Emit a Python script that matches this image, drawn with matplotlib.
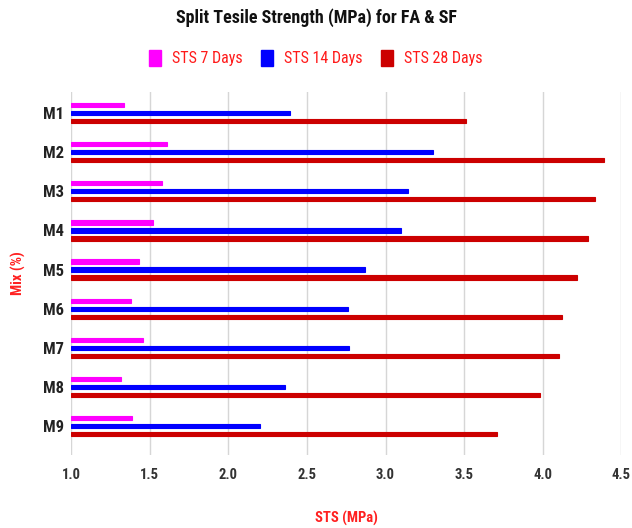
import numpy as np
import matplotlib
matplotlib.use("Agg")
import matplotlib.pyplot as plt
from matplotlib.patches import Patch

plt.rcParams["font.family"] = ["Roboto Condensed", "Roboto", "DejaVu Sans"]

# split tensile strength per mix
mixes = ["M1", "M2", "M3", "M4", "M5", "M6", "M7", "M8", "M9"]
sts_7 = [1.34, 1.61, 1.58, 1.52, 1.43, 1.38, 1.46, 1.32, 1.39]
sts_14 = [2.39, 3.30, 3.14, 3.10, 2.87, 2.76, 2.77, 2.36, 2.20]
sts_28 = [3.51, 4.39, 4.33, 4.29, 4.22, 4.12, 4.10, 3.98, 3.71]
series_labels = ["STS 7 Days", "STS 14 Days", "STS 28 Days"]
colors = ["#ff00ff", "#0000ff", "#cc0000"]
xticks = [1.0, 1.5, 2.0, 2.5, 3.0, 3.5, 4.0, 4.5]

fig = plt.figure(figsize=(6.32, 5.28), dpi=100)
ax = fig.add_axes([0.1123, 0.138, 0.8710, 0.688])

y = np.arange(len(mixes))
offsets = [-0.205, 0.0, 0.205]
base = 1.0
for vals, off, c in zip([sts_7, sts_14, sts_28], offsets, colors):
    ax.barh(y + off, np.array(vals) - base, left=base, height=0.11,
            color=c, edgecolor=c, linewidth=0.8, zorder=3)

ax.set_xlim(1.0, 4.5)
ax.set_ylim(len(mixes) - 1 + 0.74, -0.54)
ax.set_yticks(y)
ax.set_yticklabels(mixes, fontsize=12, fontweight="bold", color="#222222")
ax.set_xticks(xticks)
ax.set_xticklabels([f"{t:.1f}" for t in xticks], fontsize=10.5,
                   fontweight="bold", color="#333333")
ax.tick_params(axis="both", length=0)
ax.tick_params(axis="x", pad=9)
ax.tick_params(axis="y", pad=5)
for s in ax.spines.values():
    s.set_visible(False)
ax.grid(axis="x", color="#d6d6d6", linewidth=1.0, zorder=0)
ax.set_axisbelow(True)

ax.set_xlabel("STS (MPa)", fontsize=10.5, fontweight="bold", color="#ff2020",
              labelpad=21)
ax.set_ylabel("Mix (%)", fontsize=10.5, fontweight="bold", color="#ff2020",
              labelpad=12)

fig.text(0.5, 0.966, "Split Tesile Strength (MPa) for FA & SF", ha="center",
         va="center", fontsize=13, fontweight="bold", color="#111111")

handles = [Patch(facecolor=c, edgecolor=c) for c in colors]
leg = fig.legend(handles, series_labels, loc="center", bbox_to_anchor=(0.5, 0.89),
                 ncol=3, frameon=False, fontsize=11.5, handlelength=0.75,
                 handleheight=1.2, handletextpad=0.7, columnspacing=1.15)
for t in leg.get_texts():
    t.set_color("#ff1a1a")

fig.savefig("out.png", dpi=100)
